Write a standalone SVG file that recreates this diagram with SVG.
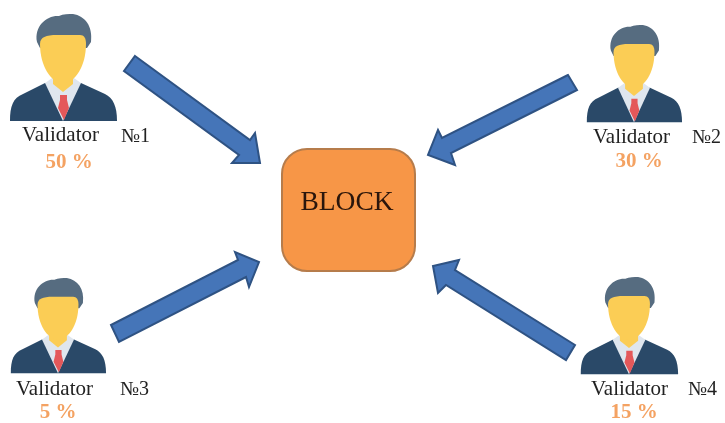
<svg xmlns="http://www.w3.org/2000/svg" width="725" height="423" viewBox="0 0 725 423">
<style>
.arrow{fill:#4474b8;stroke:#2f5283;stroke-width:2;stroke-linejoin:miter}
.name{font-family:"Liberation Serif",serif;font-size:21px;fill:#222}
.num{font-family:"Liberation Serif",serif;font-size:20px;fill:#222}
.pct{font-family:"Liberation Serif",serif;font-size:21px;font-weight:bold;fill:#f4a262;text-anchor:middle}
.blk{font-family:"Liberation Serif",serif;font-size:27.5px;fill:#2a1408;text-anchor:middle}
</style>
<defs>
<filter id="soft" x="0" y="0" width="100%" height="100%"><feGaussianBlur stdDeviation="0.5"/></filter>
<g id="person">
<path d="M-53 107 C-53 92 -50 84 -40 80 L-18 69 L18 69 L42 80 C50 84 54 92 54 107Z" fill="#2b4a68"/>
<path d="M-18 69 L-8 62 L8 62 L18 69 L0 107Z" fill="#dfe6ee"/>
<path d="M-3 81 L-3 86 L-5 94 L1 106 L6 94 L4 86 L4 81Z" fill="#e4585a"/>
<path d="M-26 28 C-29 12 -16 1 -4 2 C0 0 6 0 10 0 C22 2 30 12 28 28 L24 34 L-23 34Z" fill="#566c80"/>
<path d="M-10 58 L10 58 L10 70 L0 78 L-10 70Z" fill="#fbcd55"/>
<path d="M-23 30 C-23 23 -17 21 -6 21 L17 21 C21 21 23 24 23 30 C23 52 12 69 0 69 C-12 69 -23 52 -23 30Z" fill="#fbcd55"/>
</g>
</defs>
<rect width="725" height="423" fill="#fff"/>
<g filter="url(#soft)">
<g id="connectors">
<polygon class="arrow" points="135,56 250,140 255,133 260,163 232,163 239,155 124,71"/>
<polygon class="arrow" points="568,75 442,138 438,130 428,155 455,165 451,153 577,90"/>
<polygon class="arrow" points="111,325 238,260 235,252 259,262 249,287 246,277 119,342"/>
<polygon class="arrow" points="575,345 455,270 459,260 433,266 438,293 446,285 566,360"/>
</g>
<g id="block">
<rect x="282" y="149" width="133" height="122" rx="25" fill="#f79646" stroke="#b67c4b" stroke-width="2"/>
<text class="blk" x="347" y="210">BLOCK</text>
</g>
<g id="validator1">
<use href="#person" transform="translate(63 14)"/>
<text class="name" x="22" y="141">Validator</text><text class="num" x="121" y="142">№1</text>
<text class="pct" x="69" y="168">50 %</text>
</g>
<g id="validator2">
<use href="#person" transform="translate(634 25) scale(.89 .91)"/>
<text class="name" x="593" y="143">Validator</text><text class="num" x="692" y="143">№2</text>
<text class="pct" x="639" y="167">30 %</text>
</g>
<g id="validator3">
<use href="#person" transform="translate(58 278) scale(.89 .89)"/>
<text class="name" x="16" y="395">Validator</text><text class="num" x="120" y="395">№3</text>
<text class="pct" x="58" y="418">5 %</text>
</g>
<g id="validator4">
<use href="#person" transform="translate(629 277) scale(.91 .91)"/>
<text class="name" x="591" y="395">Validator</text><text class="num" x="688" y="395">№4</text>
<text class="pct" x="634" y="418">15 %</text>
</g>
</g>
</svg>
